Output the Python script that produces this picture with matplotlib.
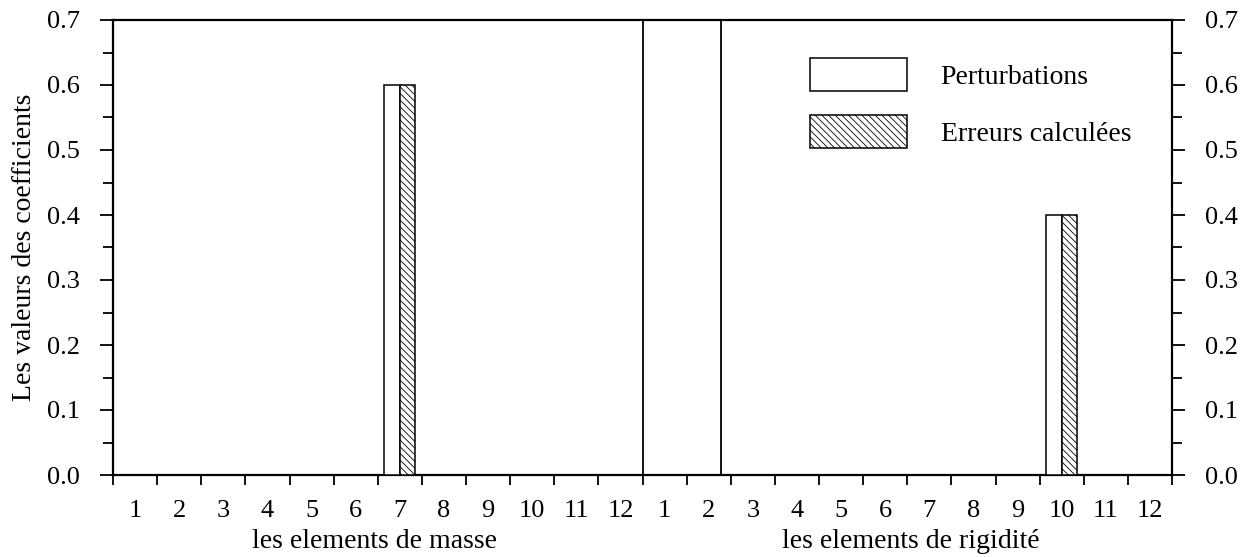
import matplotlib
matplotlib.use("Agg")
import matplotlib.pyplot as plt
import matplotlib.transforms as mtransforms
import numpy as np
from matplotlib.patches import Patch
from matplotlib.ticker import MultipleLocator, FixedLocator, NullFormatter, FormatStrFormatter

plt.rcParams['font.family'] = ['Liberation Serif', 'DejaVu Serif']
plt.rcParams['hatch.linewidth'] = 0.6

# ---- data ----
mass_labels = [str(i) for i in range(1, 13)]
stiff_labels = [str(i) for i in range(1, 13)]
tick_labels = mass_labels + stiff_labels
perturbations = [0, 0, 0, 0, 0, 0, 0.6, 0, 0, 0, 0, 0,
                 0, 0, 0, 0, 0, 0, 0, 0, 0, 0.4, 0, 0]
erreurs = [0, 0, 0, 0, 0, 0, 0.6, 0, 0, 0, 0, 0,
           0, 0, 0, 0, 0, 0, 0, 0, 0, 0.4, 0, 0]
separator_x = [12.5, 14.28]
group_titles = ["les elements de masse", "les elements de rigidité"]
group_title_x = [6.43, 18.57]
series_names = ["Perturbations", "Erreurs calculées"]

fig = plt.figure(figsize=(12.56, 5.57), dpi=100)
ax = fig.add_axes([113/1256, 82/557, 1059/1256, 455/557])

x = np.arange(1, len(tick_labels) + 1)
w = 0.35
hatch = '\\\\\\\\\\'
ax.bar(x - w/2, perturbations, width=w, facecolor='white', edgecolor='black', linewidth=1.1, zorder=3)
ax.bar(x + w/2, erreurs, width=w, facecolor='white', edgecolor='black', linewidth=1.1, hatch=hatch, zorder=3)

for sx in separator_x:
    ax.axvline(sx, color='black', linewidth=1.3, zorder=2)

ax.set_xlim(0.5, len(tick_labels) + 0.5)
ax.set_ylim(0, 0.7)

# x ticks: boundaries (major, no labels), centers (minor, labels)
ax.xaxis.set_major_locator(FixedLocator(np.arange(0.5, len(tick_labels) + 1, 1.0)))
ax.xaxis.set_major_formatter(NullFormatter())
ax.xaxis.set_minor_locator(FixedLocator(x))
ax.set_xticklabels(tick_labels, minor=True)
ax.tick_params(axis='x', which='major', direction='out', length=7.5, width=1.3)
ax.tick_params(axis='x', which='minor', length=0, pad=18, labelsize=19)

# y ticks both sides
ax.yaxis.set_major_locator(MultipleLocator(0.1))
ax.yaxis.set_minor_locator(MultipleLocator(0.05))
ax.yaxis.set_major_formatter(FormatStrFormatter('%.1f'))
ax.tick_params(axis='y', which='both', direction='out', left=True, right=True,
               labelleft=True, labelright=True, width=1.3, labelsize=19, pad=14.5)
ax.tick_params(axis='y', which='major', length=9.5)
ax.tick_params(axis='y', which='minor', length=7)

for s in ax.spines.values():
    s.set_linewidth(1.6)

ax.set_ylabel("Les valeurs des coefficients", fontsize=20)
ax.yaxis.set_label_coords((37 - 113) / 1059, 0.5)

trans = mtransforms.blended_transform_factory(ax.transData, ax.transAxes)
for t, gx in zip(group_titles, group_title_x):
    ax.text(gx, (475 - 548) / 455, t, transform=trans, ha='center', va='baseline', fontsize=20)

handles = [Patch(facecolor='white', edgecolor='black', linewidth=1.1),
           Patch(facecolor='white', edgecolor='black', linewidth=1.1, hatch=hatch)]
leg = ax.legend(handles, series_names, loc='upper left',
                bbox_to_anchor=((810 - 113) / 1059, (475 - 58) / 455),
                frameon=False, fontsize=20, handlelength=3.5, handleheight=1.45,
                handletextpad=1.2, labelspacing=0.86, borderpad=0, borderaxespad=0)

fig.savefig("out.png", dpi=100)
